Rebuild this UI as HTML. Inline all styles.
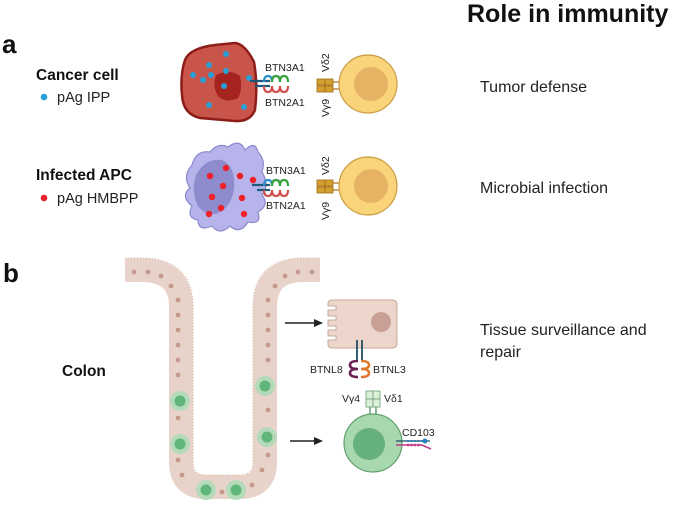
<!DOCTYPE html>
<html><head><meta charset="utf-8"><style>
html,body{margin:0;padding:0;background:#fff;}
body{width:675px;height:506px;overflow:hidden;position:relative;font-family:"Liberation Sans",sans-serif;}
svg{position:absolute;left:0;top:0;}
</style></head><body>
<svg width="675" height="506" viewBox="0 0 675 506" xmlns="http://www.w3.org/2000/svg" font-family="Liberation Sans, sans-serif">
<!-- Titles -->
<text x="467" y="22" font-size="25" font-weight="bold" fill="#111">Role in immunity</text>
<text x="2" y="53" font-size="26" font-weight="bold" fill="#111">a</text>
<text x="3" y="282" font-size="26" font-weight="bold" fill="#111">b</text>
<text x="36" y="80" font-size="15.5" font-weight="bold" fill="#111">Cancer cell</text>
<circle cx="44" cy="97" r="3.3" fill="#2a9fd6"/>
<text x="57" y="102" font-size="14.5" fill="#222">pAg IPP</text>
<text x="36" y="180" font-size="15.5" font-weight="bold" fill="#111">Infected APC</text>
<circle cx="44" cy="198" r="3.3" fill="#e8202a"/>
<text x="57" y="203" font-size="14.5" fill="#222">pAg HMBPP</text>
<text x="62" y="376" font-size="15.5" font-weight="bold" fill="#111">Colon</text>
<text x="480" y="92" font-size="16" fill="#222">Tumor defense</text>
<text x="480" y="193" font-size="16" fill="#222">Microbial infection</text>
<text x="480" y="335" font-size="16" fill="#222">Tissue surveillance and</text>
<text x="480" y="357" font-size="16" fill="#222">repair</text>

<!-- Cancer cell -->
<path d="M185,60 Q190,48 215,45 L235,43 Q245,44 254,62 Q258,85 255,110 Q250,122 235,121 L200,118 Q183,114 182,95 Q180,75 185,60Z" fill="#c9554a" stroke="#8c1d18" stroke-width="2.5"/>
<path d="M216,75 Q230,68 240,76 Q243,90 238,98 Q226,104 218,96 Q212,86 216,75Z" fill="#a52420"/>
<g fill="#2a9fd6">
<circle cx="226" cy="54" r="3"/><circle cx="209" cy="65" r="3"/><circle cx="226" cy="71" r="3"/><circle cx="193" cy="75" r="3"/><circle cx="211" cy="75" r="3"/><circle cx="203" cy="80" r="3"/><circle cx="224" cy="86" r="3"/><circle cx="209" cy="105" r="3"/><circle cx="244" cy="107" r="3"/><circle cx="249" cy="78" r="3"/>
</g>
<!-- BTN complex 1 -->
<g fill="none" stroke-width="2.2">
<path d="M250,81 L270,81" stroke="#1d5a7a"/><path d="M255,86 L270,86" stroke="#1d5a7a"/>
<path d="M264,82 q0,-6 4,-6 q4,0 4,6 q0,-6 4,-6 q4,0 4,6" stroke="#2a8fc8"/>
<path d="M272,82 q0,-6 4,-6 q4,0 4,6 q0,-6 4,-6 q4,0 4,6" stroke="#3aa040"/>
<path d="M264,86 q0,6 4,6 q4,0 4,-6 q0,6 4,6 q4,0 4,-6 q0,6 4,6 q4,0 4,-6" stroke="#d05050"/>
</g>
<text x="265" y="71" font-size="10.5" fill="#222">BTN3A1</text>
<text x="265" y="106" font-size="10.5" fill="#222">BTN2A1</text>
<!-- T cell 1 -->
<text transform="translate(329,72) rotate(-90)" font-size="10.5" fill="#222">Vδ2</text>
<text transform="translate(329,117) rotate(-90)" font-size="10.5" fill="#222">Vγ9</text>
<path d="M333,82 L341,82 M333,89 L341,89" stroke="#b07820" stroke-width="1.2"/>
<rect x="317" y="79" width="8" height="6" fill="#d4a030" stroke="#9a6a18" stroke-width="0.8"/><rect x="325" y="79" width="8" height="6" fill="#d4a030" stroke="#9a6a18" stroke-width="0.8"/>
<rect x="317" y="86" width="8" height="6" fill="#d4a030" stroke="#9a6a18" stroke-width="0.8"/><rect x="325" y="86" width="8" height="6" fill="#d4a030" stroke="#9a6a18" stroke-width="0.8"/>
<circle cx="368" cy="84" r="29" fill="#fad47a" stroke="#c99a40" stroke-width="1.2"/>
<circle cx="371" cy="84" r="17" fill="#e6b364"/>

<!-- APC -->
<path d="M192,165 Q196,150 210,152 Q218,142 228,147 Q240,138 245,150 Q255,140 258,152 Q266,160 262,172 Q270,185 262,195 Q270,205 258,212 Q262,225 248,222 Q240,235 230,226 Q220,236 212,226 Q198,232 198,220 Q186,218 192,206 Q180,196 190,188 Q182,176 192,165Z" fill="#b6b4ea" stroke="#8a88cc" stroke-width="1.2"/>
<path d="M196,175 Q205,158 222,160 Q236,166 234,190 Q230,210 215,214 Q198,214 195,198 Q192,186 196,175Z" fill="#8e8ccc"/>
<g fill="#ee2028">
<circle cx="226" cy="168" r="3.2"/><circle cx="210" cy="176" r="3.2"/><circle cx="240" cy="176" r="3.2"/><circle cx="253" cy="180" r="3.2"/><circle cx="223" cy="186" r="3.2"/><circle cx="212" cy="197" r="3.2"/><circle cx="242" cy="198" r="3.2"/><circle cx="221" cy="208" r="3.2"/><circle cx="209" cy="214" r="3.2"/><circle cx="244" cy="214" r="3.2"/>
</g>
<g fill="none" stroke-width="2.2">
<path d="M252,185 L270,185" stroke="#1d5a7a"/><path d="M257,190 L270,190" stroke="#1d5a7a"/>
<path d="M264,186 q0,-6 4,-6 q4,0 4,6 q0,-6 4,-6 q4,0 4,6" stroke="#2a8fc8"/>
<path d="M272,186 q0,-6 4,-6 q4,0 4,6 q0,-6 4,-6 q4,0 4,6" stroke="#3aa040"/>
<path d="M264,190 q0,6 4,6 q4,0 4,-6 q0,6 4,6 q4,0 4,-6 q0,6 4,6 q4,0 4,-6" stroke="#d05050"/>
</g>
<text x="266" y="174" font-size="10.5" fill="#222">BTN3A1</text>
<text x="266" y="209" font-size="10.5" fill="#222">BTN2A1</text>
<text transform="translate(329,175) rotate(-90)" font-size="10.5" fill="#222">Vδ2</text>
<text transform="translate(329,220) rotate(-90)" font-size="10.5" fill="#222">Vγ9</text>
<path d="M333,183 L341,183 M333,190 L341,190" stroke="#b07820" stroke-width="1.2"/>
<rect x="317" y="180" width="8" height="6" fill="#d4a030" stroke="#9a6a18" stroke-width="0.8"/><rect x="325" y="180" width="8" height="6" fill="#d4a030" stroke="#9a6a18" stroke-width="0.8"/>
<rect x="317" y="187" width="8" height="6" fill="#d4a030" stroke="#9a6a18" stroke-width="0.8"/><rect x="325" y="187" width="8" height="6" fill="#d4a030" stroke="#9a6a18" stroke-width="0.8"/>
<circle cx="368" cy="186" r="29" fill="#fad47a" stroke="#c99a40" stroke-width="1.2"/>
<circle cx="371" cy="186" r="17" fill="#e6b364"/>

<!-- Crypt -->
<path d="M125,270 L145,270 Q180,272 181,305 L181,462 Q181,487 206,487 L240,487 Q265,487 265,462 L265,305 Q266,272 300,270 L320,270" fill="none" stroke="#e8d3ca" stroke-width="24"/>
<path d="M125,258 L145,258 Q192,260 193,305 L193,462 Q193,475 206,475 L240,475 Q253,475 253,462 L253,305 Q254,260 300,258 L320,258" fill="none" stroke="#cdb0a4" stroke-width="1" stroke-dasharray="1 2"/>
<g fill="#c39a8c">
<circle cx="134" cy="272" r="2.4"/><circle cx="148" cy="272" r="2.4"/><circle cx="161" cy="276" r="2.4"/><circle cx="171" cy="286" r="2.4"/>
<circle cx="178" cy="300" r="2.4"/><circle cx="178" cy="315" r="2.4"/><circle cx="178" cy="330" r="2.4"/><circle cx="178" cy="345" r="2.4"/><circle cx="178" cy="360" r="2.4"/><circle cx="178" cy="375" r="2.4"/><circle cx="178" cy="418" r="2.4"/><circle cx="178" cy="460" r="2.4"/><circle cx="182" cy="475" r="2.4"/><circle cx="222" cy="492" r="2.4"/><circle cx="252" cy="485" r="2.4"/><circle cx="262" cy="470" r="2.4"/>
<circle cx="268" cy="300" r="2.4"/><circle cx="268" cy="315" r="2.4"/><circle cx="268" cy="330" r="2.4"/><circle cx="268" cy="345" r="2.4"/><circle cx="268" cy="360" r="2.4"/><circle cx="268" cy="410" r="2.4"/><circle cx="268" cy="455" r="2.4"/>
<circle cx="275" cy="286" r="2.4"/><circle cx="285" cy="276" r="2.4"/><circle cx="298" cy="272" r="2.4"/><circle cx="312" cy="272" r="2.4"/>
</g>
<g>
<circle cx="180" cy="401" r="10" fill="#a8dcb4" opacity="0.8"/><circle cx="180" cy="401" r="5.5" fill="#5fb57a"/>
<circle cx="180" cy="444" r="10" fill="#a8dcb4" opacity="0.8"/><circle cx="180" cy="444" r="5.5" fill="#5fb57a"/>
<circle cx="265" cy="386" r="10" fill="#a8dcb4" opacity="0.8"/><circle cx="265" cy="386" r="5.5" fill="#5fb57a"/>
<circle cx="267" cy="437" r="10" fill="#a8dcb4" opacity="0.8"/><circle cx="267" cy="437" r="5.5" fill="#5fb57a"/>
<circle cx="206" cy="490" r="10" fill="#a8dcb4" opacity="0.8"/><circle cx="206" cy="490" r="5.5" fill="#5fb57a"/>
<circle cx="236" cy="490" r="10" fill="#a8dcb4" opacity="0.8"/><circle cx="236" cy="490" r="5.5" fill="#5fb57a"/>
</g>
<!-- arrows -->
<path d="M285,323 L316,323" stroke="#222" stroke-width="1.6"/><path d="M323,323 L314,319 L314,327Z" fill="#222"/>
<path d="M290,441 L316,441" stroke="#222" stroke-width="1.6"/><path d="M323,441 L314,437 L314,445Z" fill="#222"/>
<!-- epithelial cell -->
<path d="M332,300 L392,300 Q397,300 397,305 L397,343 Q397,348 392,348 L332,348 Q328,348 328,344 L328,340 L336,340 L336,336 L328,336 L328,330 L336,330 L336,326 L328,326 L328,320 L336,320 L336,316 L328,316 L328,310 L336,310 L336,306 L328,306 L328,304 Q328,300 332,300Z" fill="#ecd6cc" stroke="#c8a898" stroke-width="1"/>
<circle cx="381" cy="322" r="10" fill="#c9a096"/>
<path d="M357,340 L357,362 M362,340 L362,362" stroke="#1d4e62" stroke-width="1.8"/>
<path d="M358,361 q-8,0 -8,4 q0,4 8,4 q-8,0 -8,4 q0,4 8,4" fill="none" stroke="#6a2050" stroke-width="2.6"/>
<path d="M361,361 q8,0 8,4 q0,4 -8,4 q8,0 8,4 q0,4 -8,4" fill="none" stroke="#e07a30" stroke-width="2.6"/>
<text x="310" y="373" font-size="10.5" fill="#222">BTNL8</text>
<text x="373" y="373" font-size="10.5" fill="#222">BTNL3</text>
<text x="342" y="402" font-size="10.5" fill="#222">Vγ4</text>
<text x="384" y="402" font-size="10.5" fill="#222">Vδ1</text>
<rect x="366" y="391" width="7" height="8" fill="#dcefd8" stroke="#6aa070" stroke-width="0.8"/><rect x="373" y="391" width="7" height="8" fill="#dcefd8" stroke="#6aa070" stroke-width="0.8"/>
<rect x="366" y="399" width="7" height="8" fill="#dcefd8" stroke="#6aa070" stroke-width="0.8"/><rect x="373" y="399" width="7" height="8" fill="#dcefd8" stroke="#6aa070" stroke-width="0.8"/>
<path d="M370,407 L370,414 M376,407 L376,414" stroke="#4a8a55" stroke-width="1.2"/>
<circle cx="373" cy="443" r="29" fill="#a8d8b0" stroke="#5fa06c" stroke-width="1.2"/>
<circle cx="369" cy="444" r="16" fill="#66b07e"/>
<text x="402" y="436" font-size="10.5" fill="#222">CD103</text>
<path d="M396,441 L430,441" stroke="#1d4e62" stroke-width="1.2"/>
<path d="M407,441 L428,441" stroke="#2a80c0" stroke-width="2" stroke-dasharray="2 1.5"/><circle cx="425" cy="441" r="2.5" fill="#2a80c0"/>
<path d="M396,445 L422,445 L431,449" stroke="#c03a8a" stroke-width="1.6" fill="none"/>
<path d="M407,445 L420,445" stroke="#c03a8a" stroke-width="2.5" stroke-dasharray="2 1.5"/>
</svg>
</body></html>
